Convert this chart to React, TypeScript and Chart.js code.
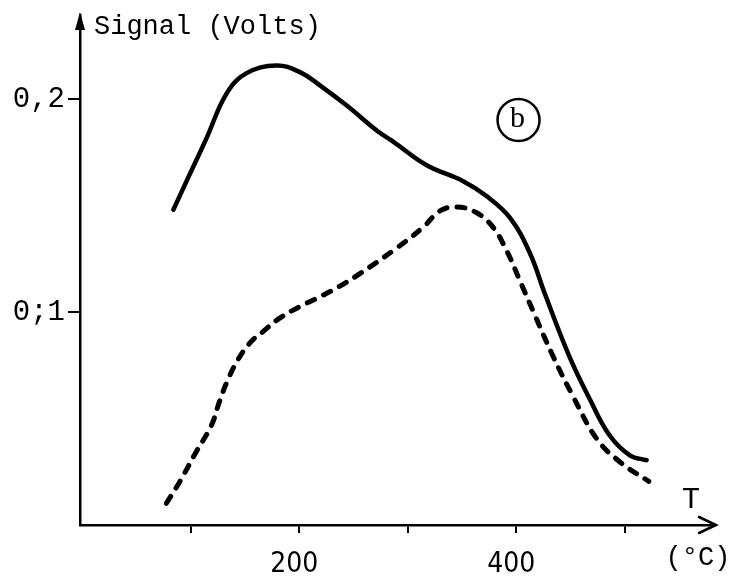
import React, { useEffect, useRef } from "react";
import { Chart, registerables } from "chart.js";

Chart.register(...registerables);

// Temperature (°C) and signal (V) for the solid curve
const solidT = [84, 99, 114.5, 133, 151, 179, 200.5, 219, 243.5, 272.6, 286.5, 317, 351, 372.5, 394, 412.4, 426, 449, 467.7, 486, 504.6, 520];
const solidV = [0.148, 0.1645, 0.1815, 0.2025, 0.212, 0.2157, 0.2126, 0.2064, 0.197, 0.1847, 0.18, 0.169, 0.1614, 0.1544, 0.1443, 0.1277, 0.1089, 0.0789, 0.059, 0.042, 0.0327, 0.0304];

// Temperature (°C) and signal (V) for the dashed curve
const dashT = [77.6, 89.9, 105, 119, 126.7, 134.4, 143.6, 154.4, 166.6, 182, 200.5, 218.9, 237, 255.8, 286.5, 314, 329.5, 345, 363, 378.6, 391, 403, 415, 434, 452, 474, 495.4, 522];
const dashV = [0.0102, 0.0203, 0.0343, 0.0467, 0.0583, 0.0684, 0.0777, 0.0854, 0.0908, 0.0971, 0.1025, 0.1071, 0.112, 0.118, 0.1288, 0.1397, 0.1474, 0.1493, 0.1467, 0.1397, 0.1288, 0.115, 0.1009, 0.079, 0.0606, 0.0405, 0.0296, 0.0205];

const xTickValues = [100, 200, 300, 400, 500];
const xTickLabels = ["", "200", "", "400", ""];
const yTickValues = [0.1, 0.2];
const yTickLabels = ["0;1", "0,2"];

const yAxisTitle = "Signal (Volts)";
const xAxisTitle = "T";
const xAxisUnit = "(°C)";
const panelLabel = "b";

const MONO = '"Liberation Mono", "DejaVu Sans Mono", monospace';

const extrasPlugin = {
  id: "extras",
  afterDraw(chart: any) {
    const { ctx, chartArea } = chart;
    const { left, right, top, bottom } = chartArea;
    ctx.save();
    ctx.fillStyle = "#000";
    ctx.strokeStyle = "#000";
    // y-axis arrowhead (filled)
    ctx.beginPath();
    ctx.moveTo(left, top - 3);
    ctx.lineTo(left - 5, top + 15);
    ctx.lineTo(left + 5, top + 15);
    ctx.closePath();
    ctx.fill();
    // x-axis arrowhead (open)
    ctx.lineWidth = 2.5;
    ctx.lineCap = "round";
    ctx.beginPath();
    ctx.moveTo(right - 16, bottom - 8);
    ctx.lineTo(right + 1, bottom);
    ctx.lineTo(right - 16, bottom + 8);
    ctx.stroke();

    // texts
    ctx.font = `27px ${MONO}`;
    ctx.textAlign = "left";
    ctx.textBaseline = "alphabetic";
    ctx.fillText(yAxisTitle, 94, 34);

    ctx.textAlign = "center";
    ctx.textBaseline = "middle";
    ctx.font = `30px ${MONO}`;
    ctx.fillText(xAxisTitle, 691, 500);
    ctx.font = `27px ${MONO}`;
    ctx.fillText(xAxisUnit, 698, 558);

    // circled panel label
    const xs = chart.scales.x;
    const ys = chart.scales.y;
    const cx = xs.getPixelForValue(402);
    const cy = ys.getPixelForValue(0.1901);
    ctx.lineWidth = 2.5;
    ctx.beginPath();
    ctx.arc(cx, cy, 21, 0, Math.PI * 2);
    ctx.stroke();
    ctx.font = '30px "Liberation Serif", serif';
    ctx.fillText(panelLabel, cx - 1, cy - 1);
    ctx.restore();
  },
};

export default function App() {
  const ref = useRef<HTMLCanvasElement | null>(null);
  useEffect(() => {
    if (!ref.current) return;
    const chart = new Chart(ref.current, {
      type: "line",
      data: {
        datasets: [
          {
            data: solidT.map((t, i) => ({ x: t, y: solidV[i] })),
            borderColor: "#000",
            borderWidth: 4.5,
            pointRadius: 0,
            tension: 0.4,
            borderCapStyle: "round",
            borderJoinStyle: "round",
            fill: false,
          },
          {
            data: dashT.map((t, i) => ({ x: t, y: dashV[i] })),
            borderColor: "#000",
            borderWidth: 5,
            pointRadius: 0,
            tension: 0.4,
            borderDash: [8, 10],
            borderCapStyle: "round",
            fill: false,
          },
        ],
      },
      options: {
        responsive: false,
        animation: false,
        layout: { padding: { top: 15, right: 21, left: 0, bottom: 0 } },
        plugins: { legend: { display: false }, tooltip: { enabled: false }, title: { display: false } },
        scales: {
          x: {
            type: "linear",
            min: -2,
            max: 583,
            afterFit: (s: any) => {
              s.height = 52;
              s.paddingLeft = 0;
              s.paddingRight = 0;
            },
            afterBuildTicks: (s: any) => {
              s.ticks = xTickValues.map((v) => ({ value: v }));
            },
            ticks: {
              callback: (_v: any, i: number) => xTickLabels[i] ?? "",
              color: "#000",
              padding: 15,
              maxRotation: 0,
              autoSkip: false,
              labelOffset: -5,
              font: { family: '"DejaVu Sans Condensed", "Liberation Sans Narrow", "Liberation Sans", sans-serif', size: 28 },
            },
            grid: { drawOnChartArea: false, drawTicks: true, tickLength: 8, color: "#000", lineWidth: 2 },
            border: { display: true, color: "#000", width: 2.5 },
          },
          y: {
            type: "linear",
            min: 0,
            max: 0.2394,
            afterFit: (s: any) => {
              s.width = 80;
              s.paddingTop = 0;
              s.paddingBottom = 0;
            },
            afterBuildTicks: (s: any) => {
              s.ticks = yTickValues.map((v) => ({ value: v }));
            },
            ticks: {
              callback: (_v: any, i: number) => yTickLabels[i] ?? "",
              color: "#000",
              padding: 3,
              autoSkip: false,
              font: { family: MONO, size: 29 },
            },
            grid: { drawOnChartArea: false, drawTicks: true, tickLength: 12, color: "#000", lineWidth: 2 },
            border: { display: true, color: "#000", width: 2.5 },
          },
        },
      },
      plugins: [extrasPlugin],
    } as any);
    return () => chart.destroy();
  }, []);
  return (
    <div style={{ position: "absolute", left: 0, top: 0, width: 736, height: 577, background: "#fff" }}>
      <canvas ref={ref} width={736} height={577} style={{ display: "block" }} />
    </div>
  );
}
